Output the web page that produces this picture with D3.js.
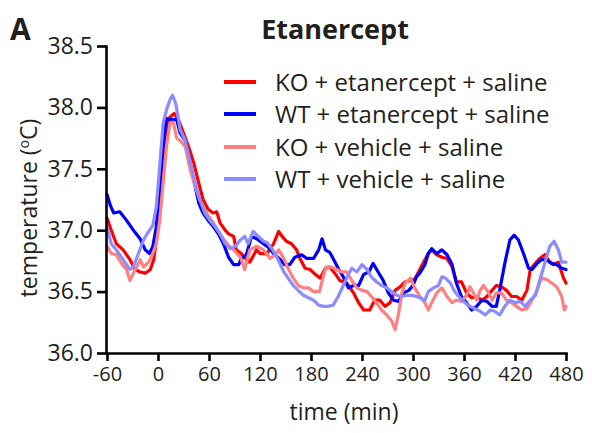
<!DOCTYPE html>
<html><head><meta charset="utf-8">
<script src="https://cdn.jsdelivr.net/npm/d3@7"></script>
<style>body{margin:0;background:#fff}svg{display:block}text{font-family:"Open Sans",sans-serif;fill:#231f20}</style>
</head><body><svg id="c" width="592" height="433"></svg>
<script>
const xTicks = [-60, 0, 60, 120, 180, 240, 300, 360, 420, 480];
const yTicks = [36.0, 36.5, 37.0, 37.5, 38.0, 38.5];
const seriesNames = ["KO + etanercept + saline", "WT + etanercept + saline", "KO + vehicle + saline", "WT + vehicle + saline"];
const seriesColors = ["#ff0000", "#0000ff", "#ff8080", "#8c8cff"];

const koEtanTime = [-60,-55,-49,-41,-33,-27,-21,-15,-9,-5,-2,2,6,10,14,19,24,30,36,42,47,53,59,65,69,73,79,83,89,92,98,104,108,116,120,128,136,142,146,151,157,163,167,173,179,185,191,197,202,208,214,222,230,236,242,249,255,261,267,273,279,285,291,297,302,308,314,318,322,328,334,340,346,351,357,363,369,375,381,387,393,398,404,410,416,422,428,434,438,444,449,455,461,465,471,477,480];
const koEtanTemp = [37.10,37.00,36.89,36.84,36.76,36.68,36.66,36.65,36.68,36.76,36.92,37.19,37.52,37.82,37.92,37.95,37.90,37.79,37.68,37.55,37.41,37.25,37.17,37.14,37.15,37.06,37.00,36.97,36.95,36.84,36.81,36.76,36.74,36.84,36.81,36.81,36.89,36.99,36.95,36.91,36.89,36.84,36.77,36.69,36.68,36.64,36.61,36.69,36.70,36.65,36.59,36.57,36.49,36.41,36.35,36.35,36.43,36.43,36.38,36.41,36.51,36.54,36.58,36.59,36.60,36.68,36.76,36.81,36.84,36.80,36.78,36.77,36.70,36.58,36.58,36.49,36.45,36.46,36.43,36.46,36.51,36.55,36.54,36.51,36.46,36.46,36.43,36.51,36.68,36.73,36.77,36.80,36.74,36.72,36.74,36.61,36.57];

const wtEtanTime = [-60,-56,-52,-45,-37,-29,-21,-15,-10,-6,-2,2,6,10,16,22,26,32,36,42,48,53,59,65,71,77,83,89,95,98,104,110,116,124,130,136,144,149,155,161,169,175,183,189,193,197,202,206,212,218,224,230,236,242,248,253,259,265,271,277,283,289,295,300,304,308,314,318,322,328,334,340,346,351,357,363,369,375,381,387,393,398,402,408,414,419,424,430,436,440,446,451,457,463,469,475,480];
const wtEtanTemp = [37.29,37.20,37.14,37.15,37.08,37.00,36.93,36.84,36.81,36.87,37.03,37.33,37.68,37.91,37.90,37.90,37.79,37.73,37.60,37.41,37.22,37.14,37.08,37.03,36.97,36.89,36.78,36.72,36.72,36.77,36.80,36.95,36.93,36.89,36.86,36.81,36.76,36.72,36.72,36.78,36.80,36.77,36.77,36.84,36.93,36.84,36.82,36.77,36.69,36.62,36.53,36.55,36.55,36.64,36.66,36.73,36.66,36.59,36.49,36.43,36.42,36.49,36.51,36.55,36.62,36.65,36.72,36.81,36.85,36.81,36.84,36.80,36.72,36.57,36.46,36.41,36.35,36.38,36.43,36.42,36.38,36.38,36.51,36.73,36.92,36.96,36.92,36.81,36.69,36.68,36.73,36.76,36.76,36.73,36.72,36.69,36.68];

const koVehTime = [-60,-55,-49,-43,-37,-33,-29,-25,-21,-17,-11,-6,-2,2,6,10,14,18,22,26,32,38,44,49,57,65,73,81,89,97,102,108,116,124,132,138,142,148,153,159,165,171,177,183,190,195,198,204,210,216,222,228,234,240,246,251,257,263,269,275,279,283,287,291,297,302,308,314,318,322,328,334,340,346,351,357,363,367,371,375,379,383,389,393,398,404,410,416,422,428,434,440,446,451,457,463,469,475,478,480];
const koVehTemp = [36.87,36.81,36.80,36.73,36.68,36.59,36.65,36.70,36.76,36.70,36.74,36.81,36.89,37.08,37.38,37.68,37.87,37.88,37.75,37.73,37.68,37.49,37.35,37.25,37.14,37.06,36.97,36.89,36.84,36.78,36.68,36.84,36.87,36.84,36.77,36.80,36.84,36.77,36.69,36.61,36.55,36.53,36.53,36.50,36.50,36.64,36.70,36.70,36.68,36.66,36.66,36.59,36.53,36.51,36.50,36.46,36.41,36.35,36.31,36.26,36.19,36.32,36.49,36.57,36.61,36.53,36.46,36.41,36.35,36.41,36.49,36.53,36.46,36.41,36.43,36.42,36.47,36.54,36.49,36.43,36.51,36.55,36.49,36.43,36.49,36.49,36.43,36.41,36.38,36.35,36.36,36.43,36.51,36.61,36.60,36.57,36.54,36.46,36.35,36.38];

const wtVehTime = [-60,-55,-49,-43,-37,-33,-29,-23,-17,-11,-6,-2,2,6,10,14,17,21,26,32,38,44,49,55,61,67,73,79,85,91,97,102,106,112,118,124,128,134,140,148,153,159,165,171,177,183,189,195,200,206,212,218,224,228,234,240,246,251,257,263,269,275,281,287,293,299,304,308,314,318,324,330,334,338,344,349,355,361,367,373,379,385,391,396,402,408,414,420,426,432,438,444,449,455,461,466,471,475,480];
const wtVehTemp = [37.03,36.89,36.84,36.78,36.72,36.68,36.70,36.81,36.92,36.99,37.04,37.19,37.52,37.87,37.98,38.06,38.10,38.03,37.82,37.73,37.55,37.38,37.25,37.14,37.08,37.03,36.97,36.89,36.85,36.87,36.92,36.95,36.89,36.99,36.95,36.91,36.90,36.85,36.78,36.66,36.61,36.55,36.51,36.47,36.45,36.43,36.39,36.38,36.38,36.39,36.46,36.55,36.64,36.69,36.66,36.72,36.68,36.62,36.58,36.55,36.53,36.50,36.47,36.46,36.47,36.47,36.46,36.45,36.43,36.50,36.53,36.55,36.62,36.61,36.57,36.50,36.45,36.41,36.38,36.36,36.34,36.31,36.35,36.34,36.31,36.38,36.43,36.41,36.42,36.38,36.43,36.47,36.59,36.73,36.87,36.91,36.84,36.74,36.74];

const seriesTimes = [koEtanTime, wtEtanTime, koVehTime, wtVehTime];
const seriesTemps = [koEtanTemp, wtEtanTemp, koVehTemp, wtVehTemp];

const svg = d3.select("#c");
const x = d3.scaleLinear().domain([-60, 480]).range([107, 566]);
const y = d3.scaleLinear().domain([36, 38.5]).range([353, 46]);

// lines
const line = d3.line().x(d => x(d[0])).y(d => y(d[1]));
seriesNames.forEach((name, i) => {
  const pts = seriesTimes[i].map((t, j) => [t, seriesTemps[i][j]]);
  svg.append("path").datum(pts).attr("d", line)
    .attr("fill", "none").attr("stroke", seriesColors[i])
    .attr("stroke-width", 3.2).attr("stroke-linejoin", "round").attr("stroke-linecap", "round");
});

// axes
const xAxis = d3.axisBottom(x).tickValues(xTicks).tickSize(8).tickSizeOuter(0).tickPadding(6).tickFormat(d => String(d));
const gx = svg.append("g").attr("transform", "translate(0,353)").call(xAxis);
gx.selectAll("text").style("font-size", "20px").attr("fill", "#231f20");
const yAxis = d3.axisLeft(y).tickValues(yTicks).tickSize(9).tickSizeOuter(0).tickPadding(4).tickFormat(d => d.toFixed(1));
const gy = svg.append("g").attr("transform", "translate(106,0)").call(yAxis);
gy.selectAll("text").style("font-size", "23px").attr("fill", "#231f20");
[gx, gy].forEach(g => {
  g.select(".domain").attr("stroke", "#000").attr("stroke-width", 2.6).attr("stroke-linecap", "square");
  g.selectAll(".tick line").attr("stroke", "#000").attr("stroke-width", 2.6);
});

// titles
svg.append("text").attr("x", 10).attr("y", 40).style("font-size", "30px").style("font-weight", "bold").attr("fill", "#000").text("A");
svg.append("text").attr("x", 335).attr("y", 39).attr("text-anchor", "middle").style("font-size", "27px").style("font-weight", "bold").text("Etanercept");
svg.append("text").attr("x", 344).attr("y", 420).attr("text-anchor", "middle").style("font-size", "23px").text("time (min)");
const yt = svg.append("text").attr("transform", "translate(37,208) rotate(-90)").attr("text-anchor", "middle").style("font-size", "23px");
yt.append("tspan").text("temperature (");
yt.append("tspan").attr("dy", -8).style("font-size", "14px").text("o");
yt.append("tspan").attr("dy", 8).text("C)");

// legend
const legendY = [82, 114, 147, 179];
seriesNames.forEach((name, i) => {
  svg.append("line").attr("x1", 224).attr("x2", 256).attr("y1", legendY[i]).attr("y2", legendY[i])
    .attr("stroke", seriesColors[i]).attr("stroke-width", 4);
  svg.append("text").attr("x", 275).attr("y", legendY[i]).attr("dy", "0.36em").style("font-size", "24px").text(name);
});
</script></body></html>
